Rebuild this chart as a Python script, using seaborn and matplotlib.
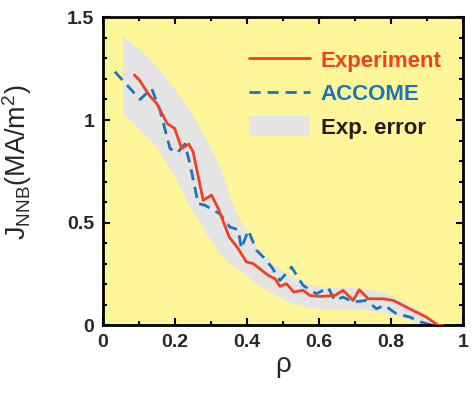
import numpy as np
import pandas as pd
import seaborn as sns
import matplotlib
matplotlib.use("Agg")
import matplotlib.pyplot as plt
from matplotlib.lines import Line2D
from matplotlib.patches import Patch

# Experiment (red solid)
rho_exp = [0.088, 0.102, 0.129, 0.150, 0.179, 0.200, 0.219, 0.239, 0.251, 0.279, 0.302, 0.321,
           0.351, 0.376, 0.399, 0.418, 0.436, 0.459, 0.478, 0.492, 0.510, 0.530, 0.556, 0.575,
           0.603, 0.644, 0.667, 0.695, 0.712, 0.737, 0.778, 0.806, 0.861, 0.898, 0.931, 0.945]
j_exp = [1.219, 1.195, 1.121, 1.081, 0.983, 0.959, 0.861, 0.883, 0.845, 0.609, 0.634, 0.569,
         0.431, 0.374, 0.309, 0.301, 0.276, 0.244, 0.228, 0.190, 0.203, 0.163, 0.171, 0.146,
         0.141, 0.146, 0.171, 0.122, 0.174, 0.130, 0.130, 0.122, 0.073, 0.041, 0.0, 0.0]

# ACCOME (blue dashed)
rho_acc = [0.034, 0.104, 0.136, 0.159, 0.187, 0.207, 0.228, 0.242, 0.265, 0.284, 0.325, 0.353,
           0.376, 0.385, 0.404, 0.427, 0.450, 0.469, 0.492, 0.524, 0.556, 0.593, 0.626, 0.644,
           0.667, 0.695, 0.732, 0.760, 0.782, 0.815, 0.852, 0.884, 0.917, 0.991]
j_acc = [1.235, 1.100, 1.154, 1.048, 0.861, 0.840, 0.883, 0.788, 0.593, 0.585, 0.544, 0.479,
         0.466, 0.374, 0.463, 0.366, 0.325, 0.284, 0.219, 0.284, 0.195, 0.154, 0.184, 0.122,
         0.138, 0.114, 0.122, 0.081, 0.098, 0.057, 0.041, 0.016, 0.0, 0.0]

# Exp. error band
rho_band = [0.055, 0.104, 0.150, 0.196, 0.242, 0.288, 0.325, 0.353, 0.381, 0.427, 0.473, 0.519,
            0.566, 0.612, 0.704, 0.778, 0.843, 0.889, 0.898, 0.945]
band_hi = [1.414, 1.341, 1.260, 1.162, 1.048, 0.902, 0.772, 0.626, 0.512, 0.382, 0.301, 0.244,
           0.203, 0.187, 0.184, 0.163, 0.114, 0.060, 0.049, 0.0]
band_lo = [1.032, 0.951, 0.869, 0.739, 0.577, 0.447, 0.349, 0.300, 0.268, 0.203, 0.154, 0.114,
           0.089, 0.081, 0.081, 0.065, 0.033, 0.0, 0.0, 0.0]

red = "#EE4123"
blue = "#1B75BC"
gray = "#E4E4E4"
yellow = "#FFF599"

sns.set_style("ticks")
plt.rcParams["font.family"] = ["Liberation Sans", "DejaVu Sans"]
plt.rcParams["mathtext.fontset"] = "custom"
plt.rcParams["mathtext.rm"] = "Liberation Sans"

fig = plt.figure(figsize=(4.73, 3.94), dpi=100)
ax = fig.add_axes([0.217, 0.174, 0.762, 0.782])
ax.set_facecolor(yellow)

ax.fill_between(rho_band, band_lo, band_hi, color=gray, lw=0, zorder=1)
df_exp = pd.DataFrame({"rho": rho_exp, "J": j_exp})
df_acc = pd.DataFrame({"rho": rho_acc, "J": j_acc})
sns.lineplot(data=df_acc, x="rho", y="J", ax=ax, color=blue, lw=2, sort=False,
             estimator=None, zorder=2)
ax.lines[-1].set_dashes([4, 2.5])
sns.lineplot(data=df_exp, x="rho", y="J", ax=ax, color=red, lw=2, sort=False,
             estimator=None, zorder=3)

ax.set_xlim(0, 1)
ax.set_ylim(0, 1.5)
ax.set_xticks([0, 0.2, 0.4, 0.6, 0.8, 1.0])
ax.set_xticklabels(["0", "0.2", "0.4", "0.6", "0.8", "1"])
ax.set_yticks([0, 0.5, 1.0, 1.5])
ax.set_yticklabels(["0", "0.5", "1", "1.5"])
ax.set_xticks(np.arange(0, 1.01, 0.1), minor=True)
ax.set_yticks(np.arange(0, 1.51, 0.1), minor=True)
ax.tick_params(which="both", direction="in", top=True, right=True, width=1.5, color="black")
ax.tick_params(which="major", length=5, labelsize=14, pad=6)
ax.tick_params(which="minor", length=3)
for lab in ax.get_xticklabels() + ax.get_yticklabels():
    lab.set_fontweight("bold")
for sp in ax.spines.values():
    sp.set_linewidth(2)
    sp.set_color("black")

ax.set_xlabel("ρ", fontsize=20, labelpad=1)
ax.set_ylabel(r"$\mathregular{J_{NNB}(MA/m^2)}$", fontsize=19.5)
ax.yaxis.set_label_coords(-0.19, 0.53)

handles = [Line2D([0], [0], color=red, lw=2),
           Line2D([0], [0], color=blue, lw=2, ls=(0, (4, 2.5))),
           Patch(facecolor=gray, edgecolor="none")]
leg = ax.legend(handles, ["Experiment", "ACCOME", "Exp. error"], loc="upper left",
                bbox_to_anchor=(0.405, 0.897), frameon=False, borderpad=0, borderaxespad=0,
                handlelength=2.75, handletextpad=0.5, labelspacing=0.5, handleheight=1.0,
                prop={"weight": "bold", "size": 16})
for txt, c in zip(leg.get_texts(), [red, blue, "#231F20"]):
    txt.set_color(c)

fig.savefig("out.png", dpi=100)
